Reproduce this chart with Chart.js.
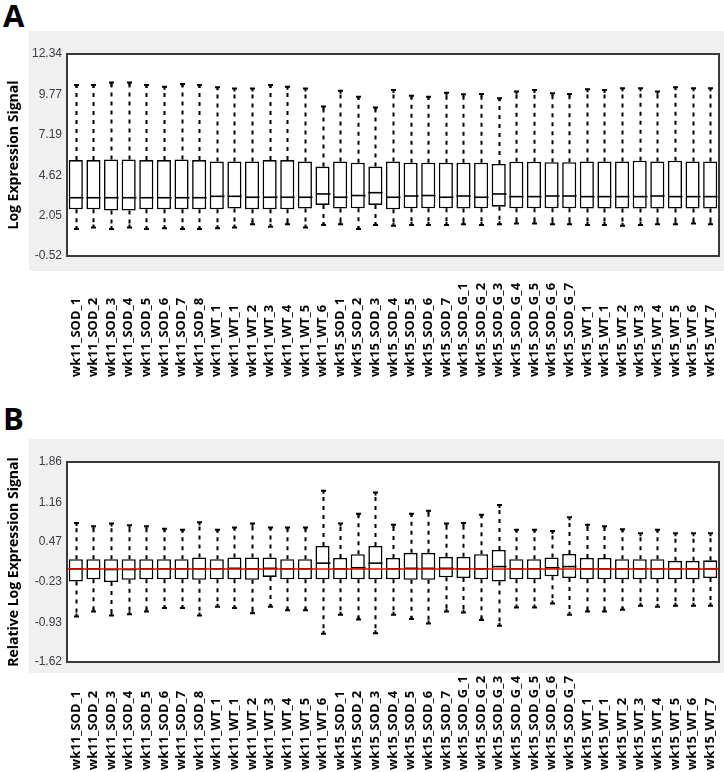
<!DOCTYPE html>
<html><head><meta charset="utf-8">
<script src="https://cdn.jsdelivr.net/npm/chart.js@4/dist/chart.umd.min.js"></script>
<style>
html,body{margin:0;padding:0;background:#fff;}
#wrap{position:relative;width:724px;height:772px;overflow:hidden;}
.panel{position:absolute;left:0;width:724px;height:386px;}
.grey{position:absolute;left:29px;width:695px;background:#f0f0f0;}
.letter{position:absolute;left:3px;font:bold 31px "Open Sans",sans-serif;color:#000;line-height:1;}
canvas{position:absolute;left:0;top:0;}
</style></head>
<body><div id="wrap">
<div class="panel" style="top:0"><div class="grey" style="top:31px;height:240px"></div><div class="letter" style="top:0px">A</div><canvas id="cA" width="724" height="386"></canvas></div>
<div class="panel" style="top:386px"><div class="grey" style="top:53px;height:234px"></div><div class="letter" style="top:17px">B</div><canvas id="cB" width="724" height="386"></canvas></div>
</div>
<script>
const categories = ["wk11_SOD_1","wk11_SOD_2","wk11_SOD_3","wk11_SOD_4","wk11_SOD_5","wk11_SOD_6","wk11_SOD_7","wk11_SOD_8",
 "wk11_WT_1","wk11_WT_1","wk11_WT_2","wk11_WT_3","wk11_WT_4","wk11_WT_5","wk11_WT_6",
 "wk15_SOD_1","wk15_SOD_2","wk15_SOD_3","wk15_SOD_4","wk15_SOD_5","wk15_SOD_6","wk15_SOD_7",
 "wk15_SOD_G_1","wk15_SOD_G_2","wk15_SOD_G_3","wk15_SOD_G_4","wk15_SOD_G_5","wk15_SOD_G_6","wk15_SOD_G_7",
 "wk15_WT_1","wk15_WT_1","wk15_WT_2","wk15_WT_3","wk15_WT_4","wk15_WT_5","wk15_WT_6","wk15_WT_7"];

// Panel A: Log Expression Signal
const aTicks = [-0.52, 2.05, 4.62, 7.19, 9.77, 12.34];
const aHigh = [10.37,10.37,10.52,10.52,10.37,10.26,10.43,10.37,10.22,10.15,10.15,10.37,10.26,10.15,8.99,10.0,9.62,8.93,10.05,9.69,9.62,9.88,9.77,9.8,9.52,9.95,10.05,9.84,9.8,10.1,10.05,10.16,10.16,9.95,10.22,10.16,10.16];
const aQ3 = [5.59,5.59,5.63,5.63,5.59,5.59,5.63,5.59,5.5,5.5,5.5,5.59,5.59,5.5,5.17,5.5,5.42,5.17,5.5,5.42,5.42,5.42,5.42,5.42,5.34,5.48,5.48,5.45,5.45,5.5,5.5,5.5,5.55,5.5,5.55,5.5,5.5];
const aMed = [3.19,3.19,3.19,3.19,3.19,3.19,3.19,3.19,3.28,3.28,3.22,3.22,3.22,3.22,3.43,3.22,3.33,3.51,3.22,3.3,3.33,3.22,3.3,3.22,3.43,3.26,3.26,3.3,3.3,3.26,3.26,3.26,3.26,3.3,3.26,3.26,3.26];
const aQ1 = [2.45,2.45,2.37,2.37,2.45,2.45,2.45,2.45,2.45,2.5,2.45,2.45,2.45,2.5,2.73,2.5,2.52,2.73,2.45,2.52,2.52,2.52,2.5,2.52,2.62,2.52,2.52,2.52,2.52,2.5,2.5,2.5,2.5,2.5,2.5,2.5,2.5];
const aLow = [1.2,1.3,1.2,1.3,1.2,1.25,1.2,1.2,1.25,1.3,1.5,1.35,1.5,1.3,1.45,1.5,1.2,1.45,1.4,1.45,1.45,1.45,1.5,1.45,1.5,1.55,1.55,1.5,1.5,1.45,1.45,1.4,1.45,1.5,1.5,1.55,1.5];

// Panel B: Relative Log Expression Signal
const bTicks = [-1.62, -0.93, -0.23, 0.47, 1.16, 1.86];
const bHigh = [0.80,0.74,0.79,0.76,0.74,0.70,0.68,0.81,0.68,0.72,0.79,0.72,0.72,0.72,1.36,0.79,0.96,1.33,0.77,0.96,1.01,0.79,0.80,0.94,1.11,0.68,0.68,0.66,0.90,0.77,0.74,0.69,0.62,0.68,0.62,0.62,0.62];
const bQ3 = [0.17,0.17,0.17,0.17,0.17,0.17,0.17,0.2,0.17,0.2,0.2,0.2,0.17,0.17,0.40,0.19,0.255,0.40,0.19,0.28,0.28,0.21,0.21,0.255,0.33,0.17,0.17,0.2,0.26,0.19,0.19,0.17,0.17,0.17,0.14,0.14,0.15];
const bMed = [0,0,-0.01,-0.01,0,0,0,0,0,0.01,0,0.01,0,0,0.10,0,0.02,0.10,0,0.01,0.01,0.01,0,0,0.04,0,0,0.02,0.04,0,0,0,0,0,0,0,0];
const bQ1 = [-0.22,-0.18,-0.23,-0.19,-0.18,-0.18,-0.18,-0.19,-0.18,-0.18,-0.19,-0.14,-0.18,-0.18,-0.18,-0.18,-0.18,-0.18,-0.18,-0.19,-0.19,-0.145,-0.16,-0.18,-0.22,-0.18,-0.18,-0.13,-0.16,-0.18,-0.18,-0.18,-0.18,-0.18,-0.18,-0.18,-0.16];
const bLow = [-0.83,-0.74,-0.81,-0.79,-0.74,-0.68,-0.68,-0.81,-0.66,-0.68,-0.77,-0.66,-0.72,-0.72,-1.13,-0.80,-0.88,-1.12,-0.80,-0.87,-0.95,-0.74,-0.76,-0.89,-0.99,-0.67,-0.67,-0.60,-0.80,-0.74,-0.74,-0.71,-0.64,-0.66,-0.64,-0.64,-0.64];

function boxPlugin(q1, med, q3, lo, hi, labelStartY, zeroLine) {
  return {
    id: 'boxextras',
    beforeDraw(chart) {
      const {ctx, chartArea: a} = chart;
      ctx.save();
      ctx.fillStyle = '#ffffff';
      ctx.fillRect(a.left, a.top, a.right - a.left, a.bottom - a.top);
      ctx.restore();
    },
    afterDatasetsDraw(chart) {
      const {ctx, chartArea: a, scales: {x, y}} = chart;
      const meta = chart.getDatasetMeta(0);
      ctx.save();
      categories.forEach((c, i) => {
        const cx = Math.round(x.getPixelForValue(i)) + 0.5;
        const hw = meta.data[i].width / 2;
        ctx.strokeStyle = '#000';
        ctx.lineWidth = 2;
        ctx.setLineDash([4, 5]);
        ctx.beginPath();
        ctx.moveTo(cx, y.getPixelForValue(q3[i]));
        ctx.lineTo(cx, y.getPixelForValue(hi[i]));
        ctx.moveTo(cx, y.getPixelForValue(q1[i]));
        ctx.lineTo(cx, y.getPixelForValue(lo[i]));
        ctx.stroke();
        ctx.setLineDash([]);
        ctx.beginPath();
        const yh = y.getPixelForValue(hi[i]), yl = y.getPixelForValue(lo[i]);
        ctx.moveTo(cx - 2.5, yh); ctx.lineTo(cx + 2.5, yh);
        ctx.moveTo(cx - 2.5, yl); ctx.lineTo(cx + 2.5, yl);
        ctx.moveTo(cx, yh); ctx.lineTo(cx, yh + 3);
        ctx.moveTo(cx, yl); ctx.lineTo(cx, yl - 3);
        ctx.stroke();
        ctx.lineWidth = 1.6;
        ctx.beginPath();
        const ym = y.getPixelForValue(med[i]);
        ctx.moveTo(cx - hw, ym); ctx.lineTo(cx + hw, ym);
        ctx.stroke();
      });
      if (zeroLine) {
        ctx.strokeStyle = '#ff0000';
        ctx.lineWidth = 1.5;
        ctx.beginPath();
        const y0 = y.getPixelForValue(0);
        ctx.moveTo(a.left, y0); ctx.lineTo(a.right, y0);
        ctx.stroke();
      }
      ctx.strokeStyle = '#3a3a3a';
      ctx.lineWidth = 2;
      ctx.strokeRect(a.left, a.top, a.right - a.left, a.bottom - a.top);
      ctx.fillStyle = '#000';
      ctx.font = 'bold 13px "Open Sans", sans-serif';
      ctx.textAlign = 'left';
      ctx.textBaseline = 'middle';
      categories.forEach((c, i) => {
        const cx = x.getPixelForValue(i);
        ctx.save();
        ctx.translate(cx, labelStartY);
        ctx.rotate(-Math.PI / 2);
        ctx.fillText(c, 0, 0);
        ctx.restore();
      });
      ctx.restore();
    }
  };
}

function makeChart(id, q1, med, q3, lo, hi, tickVals, title, padTop, padBottom, labelStartY, zeroLine) {
  return new Chart(document.getElementById(id), {
    type: 'bar',
    data: {
      labels: categories,
      datasets: [{
        data: q1.map((v, i) => [v, q3[i]]),
        backgroundColor: '#ffffff',
        borderColor: '#000000',
        borderWidth: 1.6,
        borderSkipped: false,
        barPercentage: 0.8,
        categoryPercentage: 1
      }]
    },
    options: {
      responsive: false,
      animation: false,
      devicePixelRatio: 1,
      layout: {padding: {left: 4, top: padTop, right: 5, bottom: padBottom}},
      plugins: {legend: {display: false}, tooltip: {enabled: false}},
      scales: {
        x: {display: false, offset: true, grid: {display: false}},
        y: {
          min: tickVals[0], max: tickVals[tickVals.length - 1],
          afterBuildTicks: s => { s.ticks = tickVals.map(v => ({value: v})); },
          afterFit: s => { s.width = 63; },
          grid: {display: false, drawTicks: false},
          border: {display: false},
          ticks: {padding: 5, color: '#3a3a48', font: {family: '"Liberation Sans", Arial, sans-serif', size: 12},
                  callback: v => Number(v).toFixed(2)},
          title: {display: true, text: title, color: '#000',
                  font: {family: '"Open Sans", sans-serif', weight: 'bold', size: 14},
                  padding: {top: 2, bottom: 0}}
        }
      }
    },
    plugins: [boxPlugin(q1, med, q3, lo, hi, labelStartY, zeroLine)]
  });
}

makeChart('cA', aQ1, aMed, aQ3, aLow, aHigh, aTicks, 'Log Expression Signal', 54, 130, 377, false);
makeChart('cB', bQ1, bMed, bQ3, bLow, bHigh, bTicks, 'Relative Log Expression Signal', 76, 110, 384, true);
</script>
</body></html>
